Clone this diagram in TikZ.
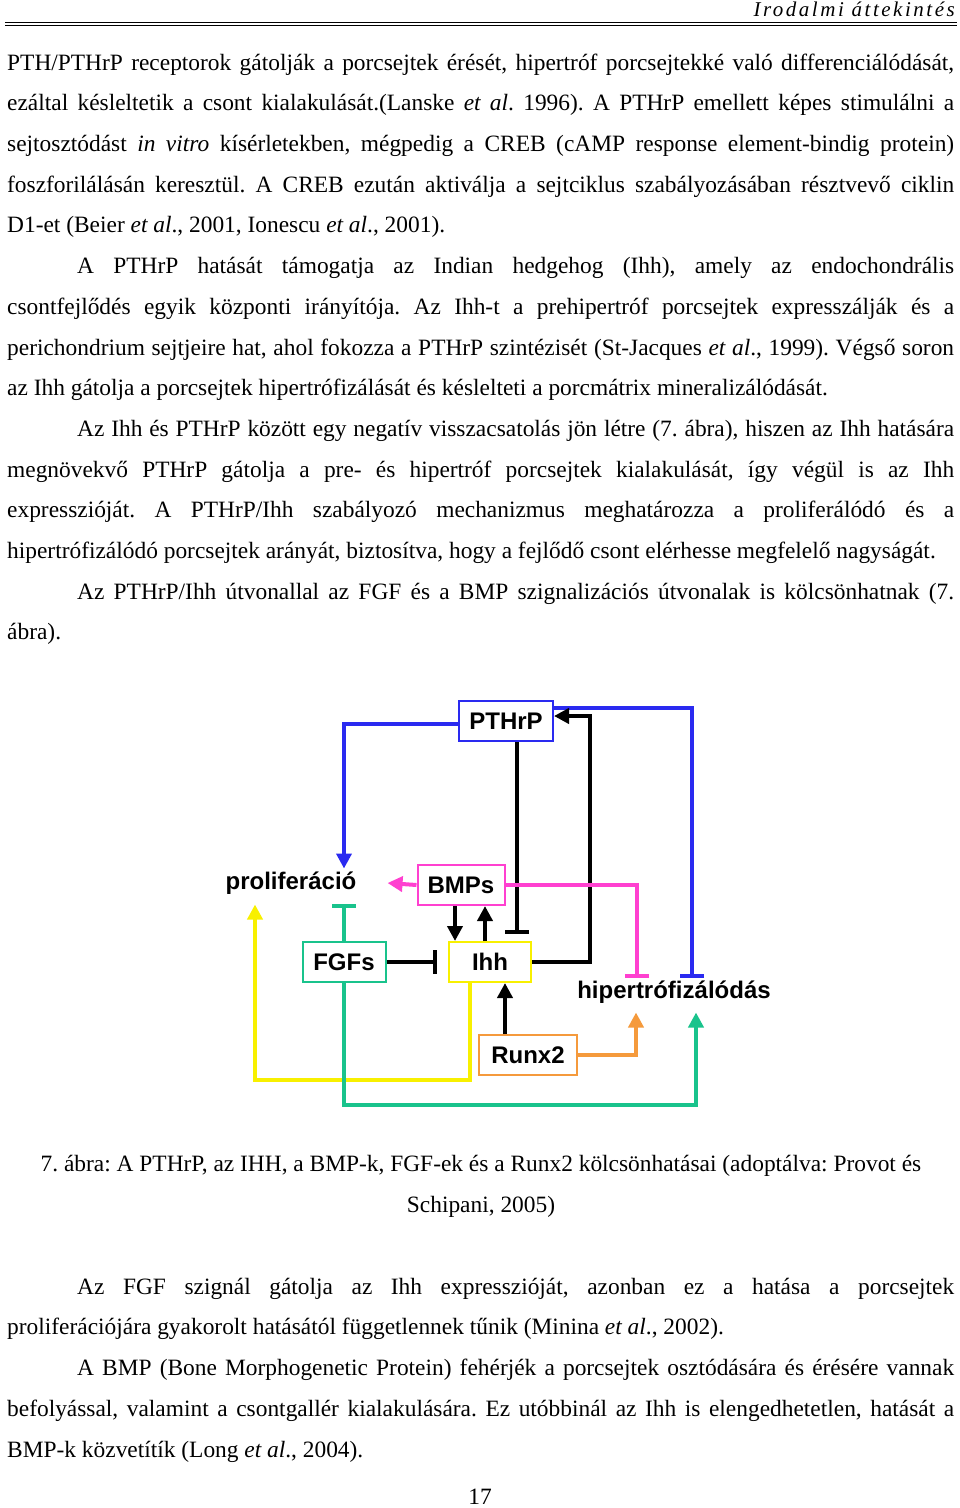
\documentclass[tikz,border=0pt]{standalone}
\usepackage{fontspec}
\setmainfont{Liberation Serif}
\setsansfont{Liberation Sans}
\usetikzlibrary{arrows.meta}
\usetikzlibrary{scopes}
\frenchspacing
\definecolor{pblue}{HTML}{2A2AF0}
\definecolor{ppink}{HTML}{FF40D0}
\definecolor{pgreen}{HTML}{19C38C}
\definecolor{pyellow}{HTML}{F8F000}
\definecolor{porange}{HTML}{F59A3C}
\tikzset{
  para/.style={anchor=north west, inner sep=0pt, text width=947pt, align=justify,
    font=\fontsize{23.4}{40.7}\selectfont},
  gene/.style={draw=#1, line width=2pt, fill=white, inner sep=0pt, minimum height=40pt,
    font=\sffamily\bfseries\fontsize{24}{24}\selectfont},
  effect/.style={inner sep=3pt, font=\sffamily\bfseries\fontsize{24}{24}\selectfont},
}
\begin{document}
\begin{tikzpicture}[x=1pt,y=-1pt]
\useasboundingbox (0,0) rectangle (960,1508);
% header
\node[anchor=base east, inner sep=0pt, font=\itshape\addfontfeature{LetterSpace=12}\fontsize{21}{21}\selectfont] (head) at (955,16) {Irodalmi áttekintés};
\draw[line width=0.6pt] (5,22) -- (957,22);
\draw[line width=0.6pt] (5,25) -- (957,25);

% text before the figure
\node[para] (p1) at (7,41.5) {\strut PTH/PTHrP receptorok gátolják a porcsejtek érését, hipertróf porcsejtekké való differenciálódását,\linebreak
ezáltal késleltetik a csont kialakulását.(Lanske \textit{et al}. 1996). A PTHrP emellett képes stimulálni a\linebreak
sejtosztódást \textit{in vitro} kísérletekben, mégpedig a CREB (cAMP response element-bindig protein)\linebreak
foszforilálásán keresztül. A CREB ezután aktiválja a sejtciklus szabályozásában résztvevő ciklin\linebreak
D1-et (Beier \textit{et al}., 2001, Ionescu \textit{et al}., 2001).\par
\hspace*{70pt}A PTHrP hatását támogatja az Indian hedgehog (Ihh), amely az endochondrális\linebreak
csontfejlődés egyik központi irányítója. Az Ihh-t a prehipertróf porcsejtek expresszálják és a\linebreak
perichondrium sejtjeire hat, ahol fokozza a PTHrP szintézisét (St-Jacques \textit{et al}., 1999). Végső soron\linebreak
az Ihh gátolja a porcsejtek hipertrófizálását és késlelteti a porcmátrix mineralizálódását.\par
\hspace*{70pt}Az Ihh és PTHrP között egy negatív visszacsatolás jön létre (7. ábra), hiszen az Ihh hatására\linebreak
megnövekvő PTHrP gátolja a pre- és hipertróf porcsejtek kialakulását, így végül is az Ihh\linebreak
expresszióját. A PTHrP/Ihh szabályozó mechanizmus meghatározza a proliferálódó és a\linebreak
hipertrófizálódó porcsejtek arányát, biztosítva, hogy a fejlődő csont elérhesse megfelelő nagyságát.\par
\hspace*{70pt}Az PTHrP/Ihh útvonallal az FGF és a BMP szignalizációs útvonalak is kölcsönhatnak (7.\linebreak
ábra).};

% figure
\node[gene=pblue, minimum width=94pt] (pthrp) at (506,721) {PTHrP};
\node[gene=ppink, minimum width=87pt] (bmps) at (461,885) {BMPs};
\node[gene=pgreen, minimum width=83pt] (fgfs) at (344,962) {FGFs};
\node[gene=pyellow, minimum width=82pt] (ihh) at (490,962) {Ihh};
\node[gene=porange, minimum width=98pt] (runx) at (528,1055) {Runx2};
\node[effect] (prolif) at (291,883) {proliferáció};
\node[effect] (hiper) at (674,992) {hipertrófizálódás};

\begin{scope}[line width=4pt, >={Triangle[width=15pt,length=15pt]},
              stop/.style={-{Bar[width=24pt,line width=4pt]}}]
  \draw[pblue,->] ([yshift=-3pt]pthrp.west) -| ([xshift=53pt]prolif.north);
  \draw[pblue,stop] ([yshift=13pt]pthrp.east) -| ([xshift=18pt]hiper.north);
  \draw[stop] ([xshift=11pt]pthrp.south) -- ([xshift=27pt,yshift=7pt]ihh.north);
  \draw[->] (ihh.east) -- ++(58,0) |- ([yshift=5pt]pthrp.east);
  \draw[ppink,->] (bmps.west) -- ([xshift=28pt]prolif.east);
  \draw[ppink,stop] (bmps.east) -| ([xshift=-37pt]hiper.north);
  \draw[->] ([xshift=-6pt]bmps.south) -- ([xshift=-35pt]ihh.north);
  \draw[->] ([xshift=-5pt]ihh.north) -- ([xshift=24pt]bmps.south);
  \draw[stop] (fgfs.east) -- ([xshift=-11pt]ihh.west);
  \draw[pgreen,stop] (fgfs.north) -- ([xshift=53pt,yshift=-6pt]prolif.south);
  \draw[pyellow,->] ([xshift=-20pt]ihh.south) -- ++(0,97) -| ([xshift=-36pt,yshift=-7pt]prolif.south);
  \draw[pgreen,->] (fgfs.south) -- ++(0,122) -| ([xshift=22pt,yshift=-6pt]hiper.south);
  \draw[porange,->] (runx.east) -| ([xshift=-38pt,yshift=-6pt]hiper.south);
  \draw[->] ([xshift=-23pt]runx.north) -- ([xshift=15pt]ihh.south);
\end{scope}

% caption
\node[anchor=north, inner sep=0pt, align=center, font=\fontsize{23.4}{40.7}\selectfont] (cap) at (481,1143) {\strut 7. ábra: A PTHrP, az IHH, a BMP-k, FGF-ek és a Runx2 kölcsönhatásai (adoptálva: Provot és\\
Schipani, 2005)};

% text after the figure
\node[para] (p2) at (7,1265.5) {\strut\hspace*{70pt}Az FGF szignál gátolja az Ihh expresszióját, azonban ez a hatása a porcsejtek\linebreak
proliferációjára gyakorolt hatásától függetlennek tűnik (Minina \textit{et al}., 2002).\par
\hspace*{70pt}A BMP (Bone Morphogenetic Protein) fehérjék a porcsejtek osztódására és érésére vannak\linebreak
befolyással, valamint a csontgallér kialakulására. Ez utóbbinál az Ihh is elengedhetetlen, hatását a\linebreak
BMP-k közvetítík (Long \textit{et al}., 2004).};

\node[anchor=base, inner sep=0pt, font=\fontsize{23.4}{23.4}\selectfont] (pageno) at (480,1504) {17};
\end{tikzpicture}
\end{document}
